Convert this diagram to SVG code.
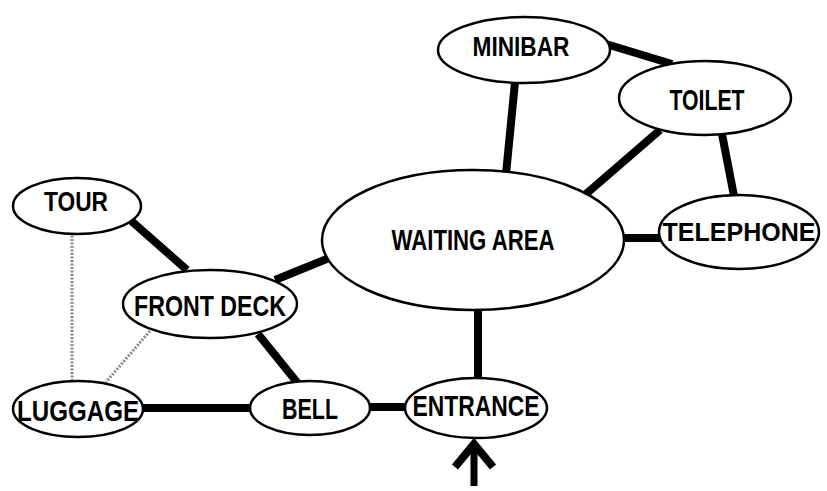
<svg xmlns="http://www.w3.org/2000/svg" width="827" height="491" viewBox="0 0 827 491">
<style>
.n ellipse{fill:#fff;stroke:#000;stroke-width:2.5}
.n text{font-family:"Liberation Sans",Arial,sans-serif;font-weight:bold;font-size:30px;fill:#000;text-anchor:middle}
.e{stroke:#000;stroke-width:8;stroke-linecap:butt;fill:none}
.d{stroke:#8a8a8a;stroke-width:3;stroke-dasharray:2 1.5;fill:none}
</style>
<rect width="827" height="491" fill="#fff"/>
<g id="connectors">
<line class="d" x1="72" y1="232" x2="72" y2="382"/>
<line class="d" x1="150" y1="331" x2="106" y2="382"/>
<line class="e" x1="128" y1="218" x2="187" y2="270"/>
<line class="e" x1="275" y1="280" x2="334" y2="256"/>
<line class="e" x1="258" y1="334" x2="300" y2="386"/>
<line class="e" x1="140" y1="408" x2="254" y2="408"/>
<line class="e" x1="368" y1="407" x2="408" y2="407"/>
<line class="e" x1="478" y1="306" x2="478" y2="380"/>
<line class="e" x1="515" y1="82" x2="506" y2="174"/>
<line class="e" x1="660" y1="130" x2="586" y2="194"/>
<line class="e" x1="622" y1="238" x2="661" y2="238"/>
<line class="e" x1="606" y1="44" x2="672" y2="64"/>
<line class="e" x1="722" y1="134" x2="734" y2="196"/>
</g>
<g id="tour" class="n"><ellipse cx="77" cy="206" rx="64" ry="28"/><text x="76" y="211" textLength="64" lengthAdjust="spacingAndGlyphs" style="font-size:27px">TOUR</text></g>
<g id="front-deck" class="n"><ellipse cx="210" cy="304" rx="87" ry="34"/><text x="210" y="316" textLength="152" lengthAdjust="spacingAndGlyphs">FRONT DECK</text></g>
<g id="luggage" class="n"><ellipse cx="78" cy="409" rx="65" ry="28"/><text x="78" y="421" textLength="122" lengthAdjust="spacingAndGlyphs">LUGGAGE</text></g>
<g id="bell" class="n"><ellipse cx="310" cy="408" rx="60" ry="27"/><text x="310" y="419" textLength="56" lengthAdjust="spacingAndGlyphs">BELL</text></g>
<g id="entrance" class="n"><ellipse cx="476" cy="408" rx="71" ry="30"/><text x="476" y="416" textLength="127" lengthAdjust="spacingAndGlyphs">ENTRANCE</text></g>
<g id="waiting-area" class="n"><ellipse cx="473" cy="240" rx="151" ry="70"/><text x="473" y="250" textLength="163" lengthAdjust="spacingAndGlyphs">WAITING AREA</text></g>
<g id="minibar" class="n"><ellipse cx="524" cy="50" rx="86" ry="33"/><text x="521" y="56" textLength="97" lengthAdjust="spacingAndGlyphs" style="font-size:27px">MINIBAR</text></g>
<g id="toilet" class="n"><ellipse cx="705" cy="98" rx="86" ry="37"/><text x="707" y="110" textLength="75" lengthAdjust="spacingAndGlyphs">TOILET</text></g>
<g id="telephone" class="n"><ellipse cx="739" cy="232" rx="80" ry="37"/><text x="739" y="241" style="font-size:25px">TELEPHONE</text></g>
<g id="arrow">
<line x1="474" y1="444" x2="474" y2="486" stroke="#000" stroke-width="7"/>
<polyline points="455,467 474,444 493,467" fill="none" stroke="#000" stroke-width="8"/>
</g>
</svg>
